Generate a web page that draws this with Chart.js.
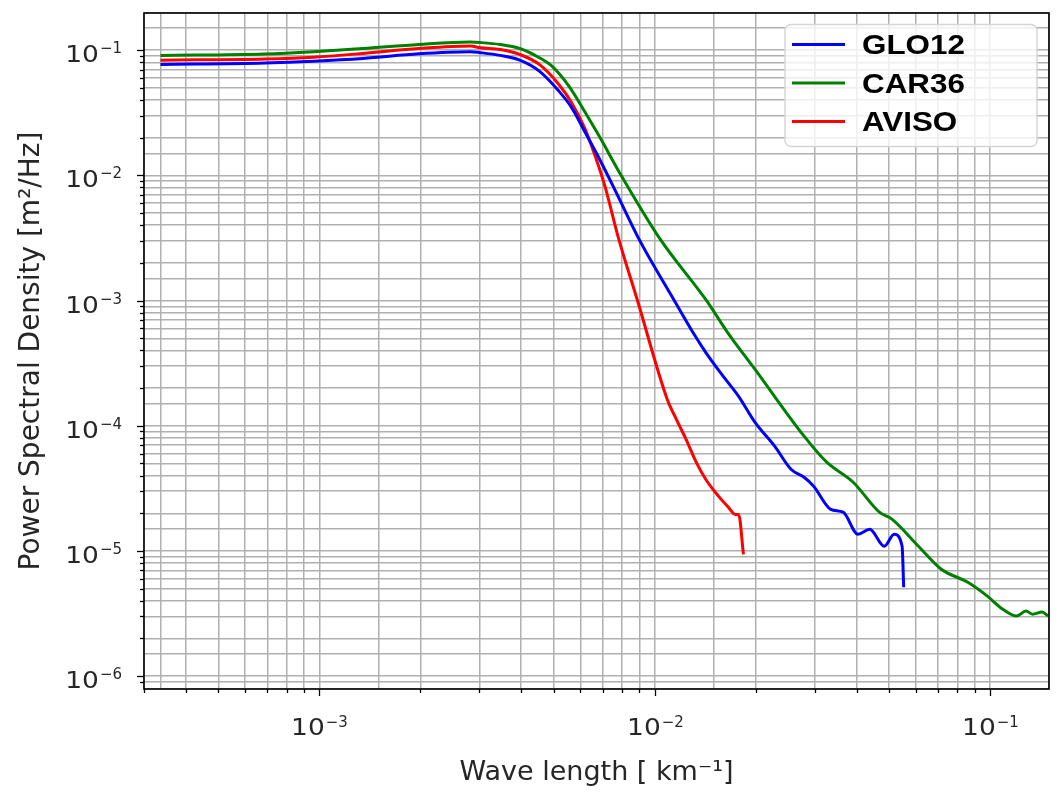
<!DOCTYPE html>
<html>
<head>
<meta charset="utf-8">
<title>Power spectral density</title>
<script src="https://cdn.jsdelivr.net/npm/chart.js@4.4.1/dist/chart.umd.min.js"></script>
<style>
  html, body { margin: 0; padding: 0; background: #fff; }
  #wrap { width: 1063px; height: 795px; }
</style>
</head>
<body>
<div id="wrap"><canvas id="psd" width="1063" height="795"></canvas></div>
<script>
// values (wavenumber in km^-1, PSD in m^2/Hz)
const glo12K = [3.36e-4, 6.88e-4, 9.62e-4, 1.35e-3, 1.98e-3, 2.82e-3, 3.02e-3, 3.46e-3, 3.96e-3, 4.53e-3,
  5.18e-3, 5.65e-3, 6.21e-3, 6.78e-3, 7.60e-3, 8.99e-3, 1.14e-2, 1.31e-2, 1.42e-2, 1.60e-2,
  1.78e-2, 1.99e-2, 2.28e-2, 2.55e-2, 2.79e-2, 2.98e-2, 3.35e-2, 3.65e-2, 4.04e-2, 4.38e-2,
  4.84e-2, 5.18e-2, 5.47e-2, 5.53e-2];
const glo12Psd = [0.0769, 0.0791, 0.0817, 0.0859, 0.0936, 0.0972, 0.0955, 0.0908, 0.0832, 0.0680,
  0.0471, 0.0349, 0.0220, 0.0142, 7.73e-3, 3.08e-3, 1.02e-3, 5.4e-4, 3.86e-4, 2.49e-4,
  1.72e-4, 1.07e-4, 6.87e-5, 4.50e-5, 3.88e-5, 3.29e-5, 2.15e-5, 2.04e-5, 1.36e-5, 1.49e-5,
  1.09e-5, 1.36e-5, 1.09e-5, 5.13e-6];

const car36K = [3.36e-4, 6.88e-4, 9.62e-4, 1.35e-3, 1.98e-3, 2.82e-3, 3.02e-3, 3.46e-3, 3.96e-3, 4.53e-3,
  4.94e-3, 5.55e-3, 6.21e-3, 6.92e-3, 7.76e-3, 1.04e-2, 1.42e-2, 1.68e-2, 1.99e-2, 2.79e-2,
  3.26e-2, 3.91e-2, 4.68e-2, 5.11e-2, 6.12e-2, 7.16e-2, 8.59e-2, 9.82e-2, 0.109, 0.120,
  0.128, 0.134, 0.143, 0.149];
const car36Psd = [0.0908, 0.0933, 0.0972, 0.103, 0.111, 0.116, 0.115, 0.111, 0.103, 0.0870,
  0.0745, 0.0516, 0.0318, 0.0194, 0.01116, 3.08e-3, 1.02e-3, 5.19e-4, 2.83e-4, 8.26e-5,
  5.12e-5, 3.54e-5, 2.04e-5, 1.79e-5, 1.09e-5, 7.14e-6, 5.62e-6, 4.36e-6, 3.44e-6, 3.02e-6,
  3.31e-6, 3.13e-6, 3.25e-6, 3.02e-6];

const avisoK = [3.36e-4, 6.88e-4, 9.62e-4, 1.35e-3, 1.98e-3, 2.82e-3, 3.02e-3, 3.46e-3, 3.96e-3, 4.53e-3,
  5.18e-3, 5.65e-3, 6.21e-3, 6.65e-3, 7.11e-3, 7.82e-3, 8.87e-3, 1.09e-2, 1.16e-2, 1.24e-2,
  1.33e-2, 1.42e-2, 1.55e-2, 1.66e-2, 1.74e-2, 1.78e-2, 1.84e-2];
const avisoPsd = [0.0832, 0.0851, 0.0879, 0.0941, 0.103, 0.108, 0.1045, 0.1013, 0.0924, 0.0769,
  0.0532, 0.0382, 0.0233, 0.0142, 8.17e-3, 3.08e-3, 1.02e-3, 1.63e-4, 1.13e-4, 7.82e-5,
  5.12e-5, 3.74e-5, 2.74e-5, 2.23e-5, 1.96e-5, 1.96e-5, 9.40e-6];

const seriesNames = ['GLO12', 'CAR36', 'AVISO'];
const seriesColors = ['#0000ff', '#008000', '#ff0000'];

const xMin = 3.37e-4, xMax = 0.15;
const yMin = 7.9e-7, yMax = 0.198;

const labelFont = '"DejaVu Sans", sans-serif';
const textColor = '#262626';

function decade(v) {
  const e = Math.log10(v);
  return Math.abs(e - Math.round(e)) < 1e-6 ? Math.round(e) : null;
}

function isWholeTick(v) {
  const p = Math.pow(10, Math.floor(Math.log10(v) + 1e-9));
  const s = v / p;
  return Math.abs(s - Math.round(s)) < 1e-6;
}

function pairs(xs, ys) {
  return xs.map((x, i) => ({x: x, y: ys[i]}));
}

// draws "10" with a raised exponent; align is 'center' or 'right'
function drawPower(ctx, exp, x, base, align) {
  const big = '23px ' + labelFont, small = '15px ' + labelFont;
  const sx = 1.15;
  const expText = '\u2212' + Math.abs(exp);
  ctx.font = big;
  const w10 = ctx.measureText('10').width * sx;
  ctx.font = small;
  const wExp = ctx.measureText(expText).width;
  const total = w10 + wExp + 1;
  const left = align === 'right' ? x - total : x - total / 2;
  ctx.save();
  ctx.translate(left, base);
  ctx.scale(sx, 1);
  ctx.font = big;
  ctx.fillText('10', 0, 0);
  ctx.restore();
  ctx.font = small;
  ctx.fillText(expText, left + w10 + 1, base - 8.5);
}

// axes frame, outside tick marks and tick labels, like matplotlib
const framePlugin = {
  id: 'frame',
  afterDraw(chart) {
    const {ctx, chartArea: a, scales} = chart;
    ctx.save();
    ctx.strokeStyle = '#000';
    ctx.fillStyle = textColor;
    ctx.lineWidth = 1.3;
    ctx.textBaseline = 'alphabetic';
    ctx.textAlign = 'left';
    scales.x.ticks.forEach(t => {
      if (!isWholeTick(t.value)) return;
      const px = Math.round(scales.x.getPixelForValue(t.value)) + 0.5;
      const e = decade(t.value);
      ctx.beginPath();
      ctx.moveTo(px, a.bottom);
      ctx.lineTo(px, a.bottom + (e !== null ? 7 : 4));
      ctx.stroke();
      if (e !== null) drawPower(ctx, e, px, a.bottom + 46, 'center');
    });
    scales.y.ticks.forEach(t => {
      if (!isWholeTick(t.value)) return;
      const py = Math.round(scales.y.getPixelForValue(t.value)) + 0.5;
      const e = decade(t.value);
      ctx.beginPath();
      ctx.moveTo(a.left, py);
      ctx.lineTo(a.left - (e !== null ? 7 : 4), py);
      ctx.stroke();
      if (e !== null) drawPower(ctx, e, a.left - 22, py + 11, 'right');
    });
    ctx.lineWidth = 1.6;
    ctx.strokeRect(a.left, a.top, a.right - a.left, a.bottom - a.top);
    ctx.restore();
  }
};

// legend box in the upper right corner of the plot
const legendBox = {
  id: 'legendBox',
  afterDraw(chart) {
    const {ctx, chartArea: a} = chart;
    const w = 252, h = 122;
    const x0 = a.right - 12 - w, y0 = a.top + 11.5;
    ctx.save();
    ctx.fillStyle = 'rgba(255,255,255,0.8)';
    ctx.strokeStyle = '#d6d6d6';
    ctx.lineWidth = 1.5;
    ctx.beginPath();
    ctx.roundRect(x0, y0, w, h, 6);
    ctx.fill();
    ctx.stroke();
    ctx.font = 'bold 28px "Liberation Sans", Arial, sans-serif';
    ctx.textBaseline = 'middle';
    chart.data.datasets.forEach((ds, i) => {
      const y = y0 + 20 + i * 38.5;
      ctx.strokeStyle = ds.borderColor;
      ctx.lineWidth = 3;
      ctx.beginPath();
      ctx.moveTo(x0 + 7, y);
      ctx.lineTo(x0 + 60, y);
      ctx.stroke();
      ctx.fillStyle = '#000';
      ctx.save();
      ctx.translate(x0 + 77, y + 2);
      ctx.scale(1.12, 1);
      ctx.fillText(ds.label, 0, 0);
      ctx.restore();
    });
    ctx.restore();
  }
};

const gridColor = '#b0b0b0';

new Chart(document.getElementById('psd'), {
  type: 'line',
  data: {
    datasets: [
      {label: seriesNames[0], data: pairs(glo12K, glo12Psd), borderColor: seriesColors[0]},
      {label: seriesNames[1], data: pairs(car36K, car36Psd), borderColor: seriesColors[1]},
      {label: seriesNames[2], data: pairs(avisoK, avisoPsd), borderColor: seriesColors[2]}
    ]
  },
  options: {
    responsive: false,
    animation: false,
    devicePixelRatio: 1,
    layout: {padding: {top: 13, right: 14, left: 0, bottom: 0}},
    elements: {
      line: {borderWidth: 3, cubicInterpolationMode: 'monotone', fill: false},
      point: {radius: 0, hoverRadius: 0}
    },
    plugins: {
      legend: {display: false},
      tooltip: {enabled: false}
    },
    scales: {
      x: {
        type: 'logarithmic',
        min: xMin,
        max: xMax,
        afterFit: s => { s.height = 106; },
        grid: {color: gridColor, lineWidth: 1.5, drawTicks: false},
        border: {display: false},
        ticks: {display: false, autoSkip: false},
        title: {
          display: true,
          text: 'Wave length [ km\u207B\u00B9]',
          color: textColor,
          font: {family: labelFont, size: 27},
          padding: {top: 6, bottom: 6}
        }
      },
      y: {
        type: 'logarithmic',
        min: yMin,
        max: yMax,
        afterFit: s => { s.width = 144; },
        grid: {color: gridColor, lineWidth: 1.5, drawTicks: false},
        border: {display: false},
        ticks: {display: false, autoSkip: false},
        title: {
          display: true,
          text: 'Power Spectral Density [m\u00B2/Hz]',
          color: textColor,
          font: {family: labelFont, size: 28},
          padding: {top: 15, bottom: 15}
        }
      }
    }
  },
  plugins: [framePlugin, legendBox]
});
</script>
</body>
</html>
